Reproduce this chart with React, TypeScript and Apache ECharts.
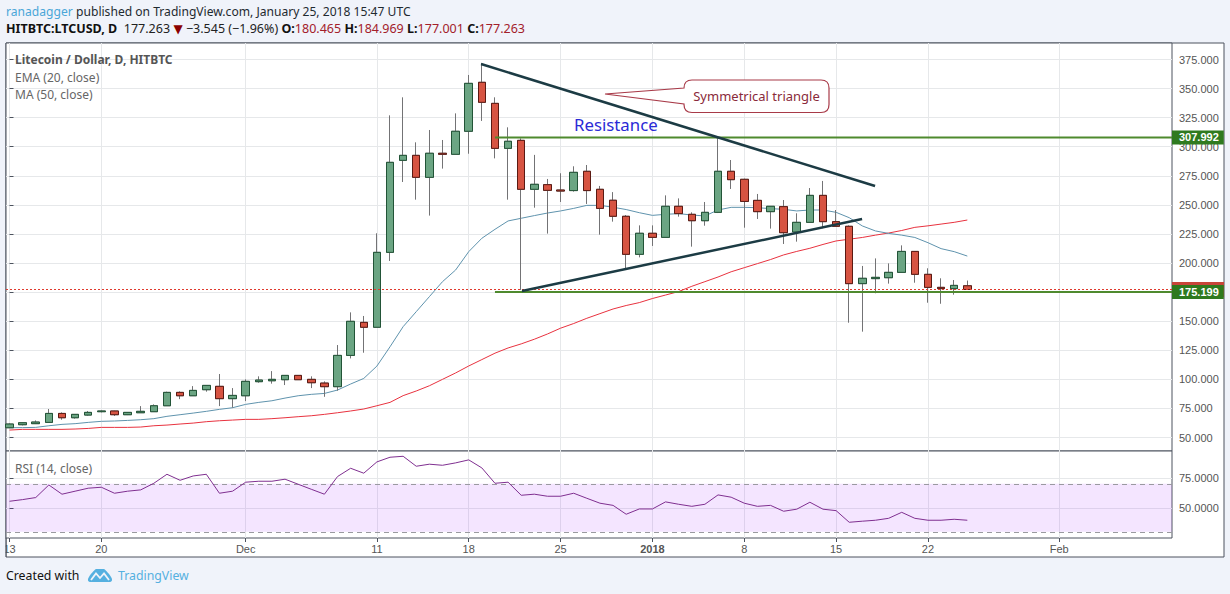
import React, { useEffect, useRef } from "react";
import * as echarts from "echarts";

const tickDays = [0, 7, 18, 28, 35, 42, 49, 56, 63, 70, 80];
const tickLabels = ["13", "20", "Dec", "11", "18", "25", "2018", "8", "15", "22", "Feb"];
const priceTicks = [50, 75, 100, 125, 150, 175, 200, 225, 250, 275, 300, 325, 350, 375];
const rsiTicks = [50, 75];

const opens = [58.4, 61, 61.9, 63, 70.7, 67, 69.3, 72.2, 72.8, 69.6, 71.3, 72.2, 77.3, 88.8, 85.9, 91.1, 94, 83.4, 85.9, 98, 98.8, 99.7, 103.4, 100, 96.8, 93.7, 120.6, 149, 144.8, 209.2, 288.3, 292.6, 273.7, 294.4, 293.5, 313.3, 355.4, 337.3, 298.6, 305.5, 263.4, 267.4, 262.8, 262.3, 278.9, 263.4, 254, 240.2, 207.5, 225.6, 222.1, 248.8, 241.9, 236.4, 243.6, 278.9, 272, 253.9, 244.2, 248.5, 226.7, 235, 258.2, 235.6, 231.6, 182.3, 186.6, 187.4, 192, 210, 190.3, 179.1, 178, 180.465];
const closes = [61.6, 62.7, 63.3, 70.7, 67, 69.9, 71.6, 72.8, 69.6, 71.6, 72.5, 77.3, 88.8, 85.9, 90.5, 94.8, 83.4, 86.2, 98.3, 99.4, 100, 103.4, 99.7, 97.1, 93.7, 120.6, 149.9, 144.8, 209.2, 286.6, 292.6, 273.7, 294.4, 293.5, 313.3, 354.5, 338.2, 298.6, 304.7, 263.4, 267.7, 262.5, 261.9, 278, 262.3, 247, 240.2, 207.5, 225.6, 222.1, 248.8, 242.5, 236.4, 243.6, 278.9, 271.7, 253, 244.2, 248.8, 226.1, 235, 258.2, 235.6, 231.6, 182.3, 186.9, 187.7, 192, 210, 190.3, 179.1, 178, 180.8, 177.263];
const lows = [58.4, 60.4, 61.6, 63, 65.3, 66.2, 68.7, 71.6, 68.5, 69.3, 71.3, 72.2, 77.3, 83, 85.9, 89.4, 77, 75.6, 81.3, 97.1, 96.3, 95.1, 99.7, 92.5, 85, 90.2, 118, 122.9, 144.8, 201.8, 269.7, 254.5, 240.8, 281.2, 293.5, 294, 322.2, 290, 254.5, 176.9, 247.6, 225.3, 252.5, 261.4, 250.8, 224.4, 235.6, 195.5, 204.9, 214.7, 222.1, 239.9, 214.1, 232.1, 243, 263.7, 230.4, 237.9, 229.6, 216.4, 218.4, 235, 229.9, 231.6, 148.7, 141, 174, 182.3, 192, 183.1, 165.9, 165, 172.8, 177.001];
const highs = [62.2, 63, 64.7, 74.5, 71.6, 70.2, 72.8, 73.3, 73, 71.9, 77, 78.5, 89.4, 89.7, 94.2, 94.8, 104.6, 92.5, 100, 102.6, 107.1, 103.4, 103.4, 102.6, 98.3, 129.5, 157.6, 154.5, 225.6, 327, 342.5, 303.8, 314.4, 305.8, 328.7, 361.7, 372, 342.5, 316.7, 307.2, 293, 272.3, 277.2, 283.2, 284.3, 266.3, 261, 241.3, 232.4, 232.4, 258.2, 255.6, 243.6, 252.5, 308.7, 288.6, 272.6, 259.4, 249, 254.2, 242.8, 264.5, 270.6, 245.6, 232.4, 197.5, 204, 199.7, 215.2, 210, 195.5, 186.9, 185.4, 184.969];
const emaValues = [58.4, 58.5, 58.7, 60.1, 61.3, 61.9, 63, 63.9, 64.2, 64.7, 65.3, 66.2, 68.2, 69.6, 71, 72.5, 74.2, 75.6, 78.5, 80.2, 81.6, 83.9, 85.9, 87.1, 87.9, 90.8, 96, 100.8, 111.4, 128, 145.3, 158.2, 171.1, 184, 194, 209.8, 221.3, 229, 236.2, 238.5, 240.8, 243, 244.8, 247, 249.6, 249.6, 248, 246, 243.3, 241, 241.9, 242.5, 241.3, 240.5, 245.6, 247.9, 247.9, 247.6, 246.8, 246.2, 244.8, 245.6, 245.6, 243.6, 239, 231.9, 227.6, 225.5, 224, 222, 217.5, 212.4, 209.8, 206];
const maValues = [56.4, 57, 57, 57, 57, 57.3, 57.8, 58.7, 58.7, 58.7, 59, 60.1, 60.7, 61.6, 62.4, 63.6, 64.4, 65, 65.6, 65.6, 66.2, 67, 67.9, 68.7, 69.9, 71.3, 72.8, 74.5, 77.3, 80.2, 86, 90, 94.5, 100, 105.5, 111.5, 117, 122.5, 127, 130.5, 134.5, 139, 144, 148, 152.5, 156.5, 160.5, 163.5, 166, 169.5, 172.5, 175.5, 180, 184, 188, 192.5, 196, 199.5, 203, 207, 210, 212.7, 216, 219, 220.5, 222, 224, 225.8, 228, 230.7, 232, 233.5, 235, 237];
const rsiValues = [55.4, 56.8, 58.5, 69, 61.3, 63.8, 66.3, 67.1, 62.1, 63.8, 64.9, 70.4, 77.9, 72.9, 76.5, 77.9, 62.1, 63.8, 71.3, 72.1, 72.1, 73.8, 69.6, 65.4, 61.3, 76, 82.9, 78.8, 88.2, 92.1, 92.9, 84.6, 86.3, 85.4, 87.4, 89.9, 83.2, 70.4, 71.3, 60.4, 61.3, 59.6, 59.6, 62.1, 57.9, 53.8, 52, 44.6, 49, 49, 54.9, 52.9, 51.2, 52.9, 60.7, 58.8, 53.8, 51.2, 52, 47.1, 48.8, 54.6, 48.8, 47.6, 37.9, 38.8, 39.6, 41.2, 46.2, 41.2, 39.6, 39.6, 40.4, 39.6];

const rsiBand = [70, 30];
const resistanceLevel = 307.992;
const supportLevel = 175.199;
const lastClose = 177.263;
const upperTrend = [[35.94, 371.1], [65.97, 266.2]];
const lowerTrend = [[39.06, 176], [64.98, 237.9]];
const levelStartDay = 37;

const X_MIN = -0.267;
const X_MAX = 88.6;
const days = opens.map((_, i) => i);

const UP = "#6ba583";
const DOWN = "#d75442";
const UP_BORDER = "#225437";
const DOWN_BORDER = "#5b1a13";
const WICK = "#737375";
const GRID = "#e6e8ea";
const FRAME = "#4c525e";
const BG = "#f0f3fa";
const AXIS_FONT = "'Liberation Sans', Arial, sans-serif";
const UI_FONT = "'Noto Sans', 'Open Sans', sans-serif";

echarts.graphic.registerShape(
  "tvCallout",
  echarts.graphic.extendPath(
    "M605 94 L684 88 L684 88 Q684 80 692 80 L821 80 Q829 80 829 88 L829 104.5 Q829 112.5 821 112.5 L692 112.5 Q684 112.5 684 104.5 L684 104 Z",
    {}
  )
);
echarts.graphic.registerShape(
  "tvLogo",
  echarts.graphic.extendPath(
    "M1 9 C2 7 6 2 8 1 L16 1 C18 2 22 7 23 9 C25 12 24 14 21 14 L3 14 C0 14 -1 12 1 9 Z",
    {}
  )
);

export default function App() {
  const ref = useRef<HTMLDivElement>(null);

  useEffect(() => {
    document.body.style.margin = "0";
    const chart = echarts.init(ref.current!, undefined, { renderer: "svg" });

    const levelSeries = (name: string, value: number) => ({
      name,
      type: "line",
      xAxisIndex: 0,
      yAxisIndex: 0,
      data: [[levelStartDay, value], [X_MAX, value]],
      showSymbol: false,
      symbol: "none",
      z: 8,
      lineStyle: { color: "#4f8a2e", width: 2 },
      endLabel: {
        show: true,
        distance: 0,
        formatter: () => value.toFixed(3),
        color: "#fff",
        fontFamily: AXIS_FONT,
        fontSize: 11,
        fontWeight: "bold",
        backgroundColor: "#2f7a1f",
        padding: [2, 5, 1, 7],
      },
    });

    const trendSeries = (name: string, data: number[][]) => ({
      name,
      type: "line",
      xAxisIndex: 0,
      yAxisIndex: 0,
      data,
      showSymbol: false,
      symbol: "none",
      z: 9,
      lineStyle: { color: "#1c3b44", width: 2.5 },
    });

    chart.setOption({
      animation: false,
      backgroundColor: BG,
      grid: [
        { left: 6, top: 43, width: 1166, height: 408, show: true, backgroundColor: "#fff", borderColor: FRAME, borderWidth: 1 },
        { left: 6, top: 451, width: 1166, height: 87, show: true, backgroundColor: "#fff", borderColor: FRAME, borderWidth: 1 },
      ],
      xAxis: [
        {
          type: "value", gridIndex: 0, min: X_MIN, max: X_MAX,
          axisLine: { show: false }, axisTick: { show: false, customValues: tickDays },
          axisLabel: { show: false, customValues: tickDays },
          splitLine: { show: true, lineStyle: { color: GRID, width: 1 } },
        },
        {
          type: "value", gridIndex: 1, min: X_MIN, max: X_MAX,
          axisLine: { show: false },
          axisTick: { show: true, length: 4, customValues: tickDays, lineStyle: { color: FRAME } },
          axisLabel: {
            show: true, customValues: tickDays, margin: 5, color: "#555", fontFamily: AXIS_FONT, fontSize: 11,
            showMinLabel: true, showMaxLabel: true, hideOverlap: false,
            formatter: (v: number) => {
              const t = tickLabels[tickDays.indexOf(v)] ?? "";
              return t === "2018" ? `{b|${t}}` : t;
            },
            rich: { b: { fontWeight: "bold", color: "#555", fontFamily: AXIS_FONT, fontSize: 11 } },
          },
          splitLine: { show: true, lineStyle: { color: GRID, width: 1 } },
        },
      ],
      yAxis: [
        {
          type: "value", gridIndex: 0, position: "right", min: 38.4, max: 389.2, scale: true,
          axisLine: { show: false },
          axisTick: { show: true, length: 4, customValues: priceTicks, lineStyle: { color: FRAME } },
          axisLabel: { customValues: priceTicks, margin: 7, color: "#555", fontFamily: AXIS_FONT, fontSize: 11, formatter: (v: number) => v.toFixed(3) },
          splitLine: { show: true, lineStyle: { color: GRID, width: 1 } },
        },
        {
          type: "value", gridIndex: 1, position: "right", min: 24.8, max: 97.3, scale: true,
          axisLine: { show: false },
          axisTick: { show: true, length: 4, customValues: rsiTicks, lineStyle: { color: FRAME } },
          axisLabel: { customValues: rsiTicks, margin: 7, color: "#555", fontFamily: AXIS_FONT, fontSize: 11, formatter: (v: number) => v.toFixed(4) },
          splitLine: { show: true, lineStyle: { color: GRID, width: 1 } },
        },
      ],
      series: [
        {
          name: "MA (50, close)", type: "line", xAxisIndex: 0, yAxisIndex: 0, z: 2,
          data: days.map((d) => [d, maValues[d]]), showSymbol: false, symbol: "none",
          lineStyle: { color: "#e8323f", width: 1 },
        },
        {
          name: "EMA (20, close)", type: "line", xAxisIndex: 0, yAxisIndex: 0, z: 2,
          data: days.map((d) => [d, emaValues[d]]), showSymbol: false, symbol: "none",
          lineStyle: { color: "#5f93ad", width: 1 },
        },
        {
          name: "Last price", type: "line", xAxisIndex: 0, yAxisIndex: 0, z: 7,
          data: [[X_MIN, lastClose], [X_MAX, lastClose]], showSymbol: false, symbol: "none",
          lineStyle: { opacity: 0, width: 0 },
          markLine: {
            silent: true, symbol: "none", label: { show: false },
            lineStyle: { color: "#e03a2e", type: [2, 2], width: 1, opacity: 1 },
            data: [{ yAxis: lastClose }],
          },
          markPoint: {
            silent: true,
            symbol: "rect",
            symbolSize: [52, 15],
            symbolOffset: [26, 0],
            itemStyle: { color: "#c8453a" },
            label: { show: false },
            data: [{ coord: [X_MAX, lastClose] }],
          },
        },
        {
          name: "Wicks", type: "candlestick", xAxisIndex: 0, yAxisIndex: 0, z: 3, barWidth: 8,
          data: days.map((d) => [d, opens[d], closes[d], lows[d], highs[d]]),
          itemStyle: { color: WICK, color0: WICK, borderColor: WICK, borderColor0: WICK, borderColorDoji: WICK, borderWidth: 1 },
        },
        {
          name: "LTCUSD", type: "candlestick", xAxisIndex: 0, yAxisIndex: 0, z: 4, barWidth: 8,
          data: days.map((d) => [d, opens[d], closes[d], Math.min(opens[d], closes[d]), Math.max(opens[d], closes[d])]),
          itemStyle: { color: UP, color0: DOWN, borderColor: UP_BORDER, borderColor0: DOWN_BORDER, borderColorDoji: DOWN_BORDER, borderWidth: 1 },
        },
        levelSeries("Resistance", resistanceLevel),
        levelSeries("Support", supportLevel),
        trendSeries("Upper trend", upperTrend),
        trendSeries("Lower trend", lowerTrend),
        {
          name: "RSI (14, close)", type: "line", xAxisIndex: 1, yAxisIndex: 1, z: 5,
          data: days.map((d) => [d, rsiValues[d]]), showSymbol: false, symbol: "none",
          lineStyle: { color: "#7f2f90", width: 1 },
          markArea: {
            silent: true,
            itemStyle: { color: "rgba(153,21,255,0.11)" },
            data: [[{ yAxis: rsiBand[0] }, { yAxis: rsiBand[1] }]],
          },
          markLine: {
            silent: true, symbol: "none", label: { show: false },
            lineStyle: { color: "#9a9aa0", type: [5, 4], width: 1 },
            data: rsiBand.map((v) => ({ yAxis: v })),
          },
        },
      ],
      graphic: [
        { type: "rect", z: -1, shape: { x: 6, y: 43, width: 1218, height: 514 }, style: { fill: "#fff", stroke: FRAME, lineWidth: 1 } },
        { type: "rect", z: 100, shape: { x: 0, y: 539, width: 5.5, height: 18 }, style: { fill: BG } },
        { type: "line", z: 101, shape: { x1: 6, y1: 538, x2: 6, y2: 557 }, style: { stroke: FRAME, lineWidth: 1 } },
        {
          type: "text", z: 20, x: 6, y: 5,
          style: {
            text: "{a|ranadagger} {b|published on TradingView.com, January 25, 2018 15:47 UTC}",
            rich: {
              a: { fill: "#4aa6d8", fontFamily: UI_FONT, fontSize: 12.1 },
              b: { fill: "#1f2a30", fontFamily: UI_FONT, fontSize: 12.1 },
            },
          },
        },
        {
          type: "text", z: 20, x: 6, y: 22,
          style: {
            text: "{k|HITBTC:LTCUSD, D}  {n|177.263} {t|▼} {n|−3.545 (−1.96%)} {k|O:}{r|180.465} {k|H:}{r|184.969} {k|L:}{r|177.001} {k|C:}{r|177.263}",
            rich: {
              k: { fill: "#111", fontFamily: UI_FONT, fontSize: 12.5, fontWeight: "bold" },
              n: { fill: "#222", fontFamily: UI_FONT, fontSize: 12.5 },
              t: { fill: "#8b0000", fontFamily: "'DejaVu Sans'", fontSize: 12 },
              r: { fill: "#a3202a", fontFamily: UI_FONT, fontSize: 12.5 },
            },
          },
        },
        { type: "text", z: 20, x: 15, y: 53, style: { text: "Litecoin / Dollar, D, HITBTC", fill: "#555", fontFamily: UI_FONT, fontSize: 12, fontWeight: "bold" } },
        { type: "text", z: 20, x: 15, y: 71, style: { text: "EMA (20, close)", fill: "#666", fontFamily: UI_FONT, fontSize: 12 } },
        { type: "text", z: 20, x: 15, y: 88, style: { text: "MA (50, close)", fill: "#666", fontFamily: UI_FONT, fontSize: 12 } },
        { type: "text", z: 20, x: 15, y: 462, style: { text: "RSI (14, close)", fill: "#666", fontFamily: UI_FONT, fontSize: 12 } },
        { type: "tvCallout", z: 20, style: { fill: "#fff", stroke: "#a83a48", lineWidth: 1.2 } },
        { type: "text", z: 21, x: 756.5, y: 96, style: { text: "Symmetrical triangle", fill: "#8a2a3a", fontFamily: UI_FONT, fontSize: 13, align: "center", verticalAlign: "middle" } },
        { type: "text", z: 21, x: 574, y: 116, style: { text: "Resistance", fill: "#2a2ad6", fontFamily: UI_FONT, fontSize: 16.8 } },
        { type: "text", z: 20, x: 6, y: 569, style: { text: "Created with", fill: "#111", fontFamily: UI_FONT, fontSize: 12.3 } },
        { type: "tvLogo", z: 20, x: 88, y: 568, style: { fill: "#55b0e0" } },
        { type: "polyline", z: 21, x: 88, y: 568, shape: { points: [[3, 12], [8, 5.5], [12, 10], [16, 5.5], [21, 12]] }, style: { stroke: "#f0f3fa", lineWidth: 1.8, fill: "none" } },
        { type: "text", z: 20, x: 118, y: 569, style: { text: "TradingView", fill: "#55b0e0", fontFamily: UI_FONT, fontSize: 12.3 } },
      ],
    });

    return () => chart.dispose();
  }, []);

  return <div ref={ref} style={{ position: "absolute", left: 0, top: 0, width: 1230, height: 594 }} />;
}
